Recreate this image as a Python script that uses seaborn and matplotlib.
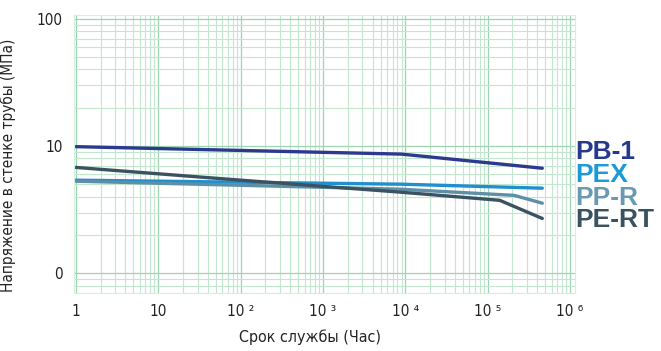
import matplotlib
matplotlib.use("Agg")
import matplotlib.pyplot as plt
import seaborn as sns
import pandas as pd

# service life (hours) and wall stress (MPa)
pb1_hours = [1, 9e3, 4.6e5]
pb1_mpa = [9.9, 8.65, 6.7]
pex_hours = [1, 9e3, 4.6e5]
pex_mpa = [5.4, 5.02, 4.67]
ppr_hours = [1, 9e3, 2.1e5, 4.6e5]
ppr_mpa = [5.3, 4.58, 4.1, 3.56]
pert_hours = [1, 1e2, 9e3, 1.4e5, 4.6e5]
pert_mpa = [6.8, 5.4, 4.34, 3.75, 2.7]

materials = ["PB-1", "PEX", "PP-R", "PE-RT"]
colors = ["#2b3a8e", "#1f8fd0", "#5d8fa6", "#3b5261"]
label_colors = ["#27398a", "#1c9ad8", "#6a9ab2", "#38525f"]

xticks = [1, 10, 1e2, 1e3, 1e4, 1e5, 1e6]
xlabels = ["1", "10", "10 ²", "10 ³", "10 ⁴", "10 ⁵", "10 ⁶"]
yticks = [1, 10, 100]
ylabels = ["0", "10", "100"]

frames = []
for name, h, v in [("PB-1", pb1_hours, pb1_mpa), ("PEX", pex_hours, pex_mpa),
                   ("PP-R", ppr_hours, ppr_mpa), ("PE-RT", pert_hours, pert_mpa)]:
    frames.append(pd.DataFrame({"hours": h, "mpa": v, "material": name}))
df = pd.concat(frames, ignore_index=True)

sns.set_style("white")
plt.rcParams["font.family"] = ["DejaVu Sans"]
plt.rcParams["font.stretch"] = "condensed"

fig = plt.figure(figsize=(6.61, 3.51), dpi=100)
ax = fig.add_axes([0.112, 0.165, 0.758, 0.792])

sns.lineplot(data=df, x="hours", y="mpa", hue="material", hue_order=materials,
             palette=colors, linewidth=2.4, legend=False, ax=ax, estimator=None,
             sort=False)

ax.set_xscale("log")
ax.set_yscale("log")
ax.set_xlim(0.95, 1.15e6)
ax.set_ylim(0.70, 107)

ax.grid(True, which="major", color="#9fd3b4", linewidth=0.9)
ax.grid(True, which="minor", color="#c3e6cf", linewidth=0.8)
for s in ax.spines.values():
    s.set_color("#d6eede")

ax.set_xticks(xticks)
ax.set_xticklabels(xlabels)
ax.set_yticks(yticks)
ax.set_yticklabels(ylabels)
ax.tick_params(which="both", length=0, labelsize=11, colors="#222222", pad=8)

ax.set_xlabel("Срок службы (Час)", fontsize=11.5, color="#222222")
ax.set_ylabel("Напряжение в стенке трубы (МПа)", fontsize=11, color="#222222")
ax.xaxis.set_label_coords(0.47, -0.13)
ax.yaxis.set_label_coords(-0.115, 0.46)

# material labels to the right of the plot
for i, (name, c) in enumerate(zip(materials, label_colors)):
    fig.text(0.871, 0.567 - i * 0.065, name, color=c, fontsize=19, fontweight="heavy",
             family=["Liberation Sans", "DejaVu Sans"], stretch="normal",
             va="center", ha="left")

fig.savefig("out.png", dpi=100)
